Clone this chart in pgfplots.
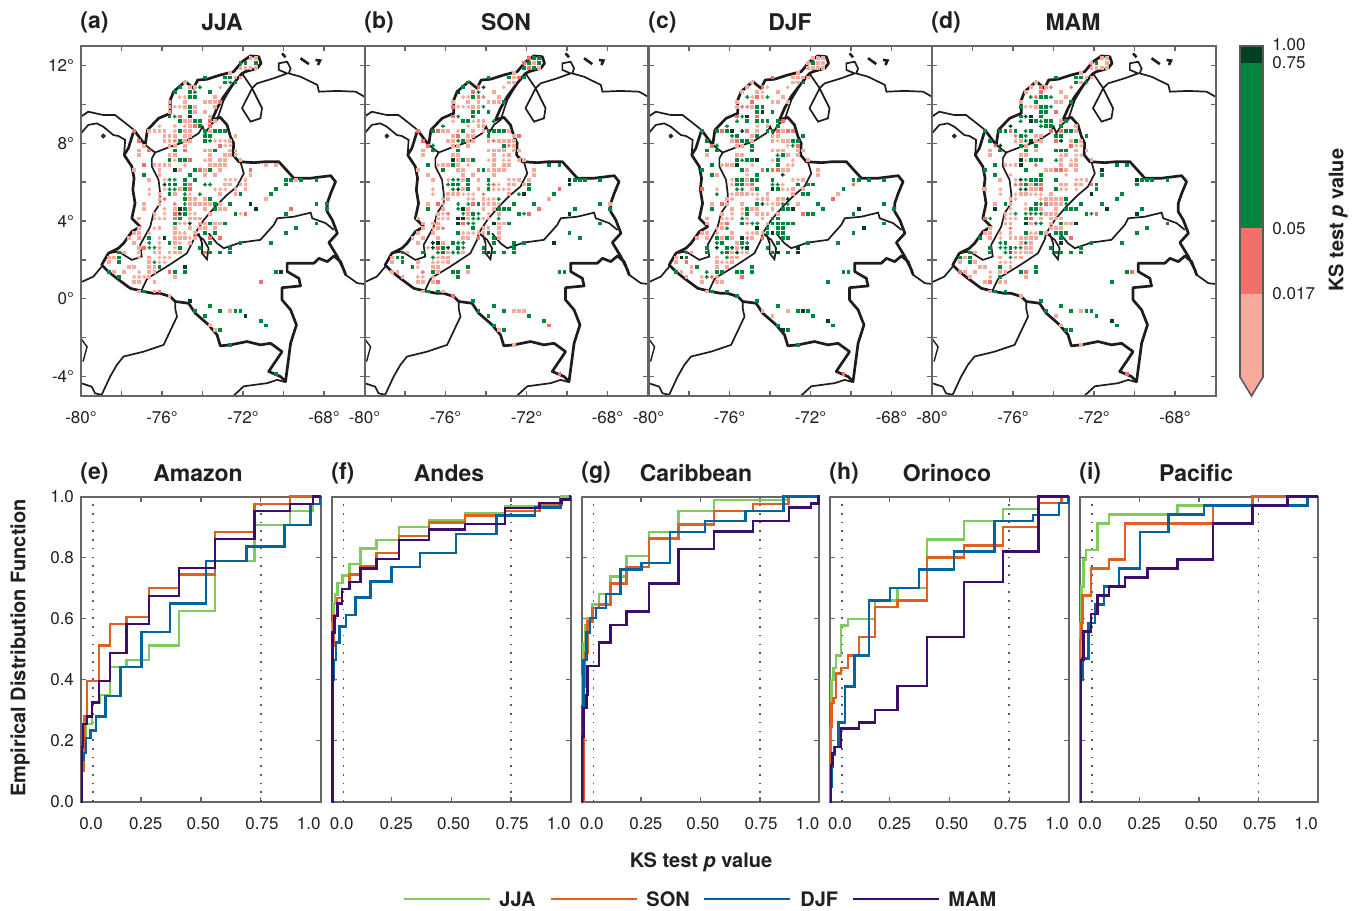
\documentclass[border=0pt]{standalone}
\usepackage{fontspec}
\setmainfont{TeX Gyre Heros}
\usepackage{pgfplots}
\pgfplotsset{compat=1.18}
\definecolor{cpink}{HTML}{F7A99B}
\definecolor{cred}{HTML}{F2706A}
\definecolor{cgreen}{HTML}{00853F}
\definecolor{cdark}{HTML}{003F22}
\definecolor{axgray}{HTML}{666666}
\definecolor{txt}{HTML}{231F20}
\definecolor{cJJA}{HTML}{7FCB5E}
\definecolor{cSON}{HTML}{E0601F}
\definecolor{cDJF}{HTML}{00659E}
\definecolor{cMAM}{HTML}{3C0E6B}
\pgfdeclareplotmark{blob}{%
 \pgfpathrectangle{\pgfpoint{-\pgfplotmarksize}{-.38\pgfplotmarksize}}{\pgfpoint{2\pgfplotmarksize}{.76\pgfplotmarksize}}%
 \pgfpathrectangle{\pgfpoint{-.38\pgfplotmarksize}{-\pgfplotmarksize}}{\pgfpoint{.76\pgfplotmarksize}{2\pgfplotmarksize}}%
 \pgfusepathqfill}
\pgfdeclareplotmark{sq}{%
 \pgfpathrectangle{\pgfpoint{-\pgfplotmarksize}{-\pgfplotmarksize}}{\pgfpoint{2\pgfplotmarksize}{2\pgfplotmarksize}}%
 \pgfusepathqfill}
\newcommand\PS[1]{\addplot[only marks,mark=sq,mark size=.95pt,mark options={fill=cpink,draw=none}] coordinates {#1};}
\newcommand\PP[1]{\addplot[only marks,mark=blob,mark size=.95pt,mark options={fill=cpink,draw=none}] coordinates {#1};}
\newcommand\GS[1]{\addplot[only marks,mark=sq,mark size=.95pt,mark options={fill=cgreen,draw=none}] coordinates {#1};}
\newcommand\GP[1]{\addplot[only marks,mark=blob,mark size=.95pt,mark options={fill=cgreen,draw=none}] coordinates {#1};}
\newcommand\DS[1]{\addplot[only marks,mark=sq,mark size=.95pt,mark options={fill=cdark,draw=none}] coordinates {#1};}
\newcommand\DP[1]{\addplot[only marks,mark=blob,mark size=.95pt,mark options={fill=cdark,draw=none}] coordinates {#1};}
\newcommand\RS[1]{\addplot[only marks,mark=sq,mark size=.95pt,mark options={fill=cred,draw=none}] coordinates {#1};}
\newcommand\RP[1]{\addplot[only marks,mark=blob,mark size=.95pt,mark options={fill=cred,draw=none}] coordinates {#1};}
\newcommand\Coast{%
\addplot[line width=.85pt,color=txt!90!black] coordinates {(-80,.85)(-79.39,1.14)(-78.98,1.65)};
\addplot[line width=.85pt,color=txt!90!black] coordinates {(-80,9.37)(-79.64,9.62)(-78.9,9.45)(-78.32,9.45)(-77.9,9.11)(-77.38,8.68)};
\addplot[line width=.85pt,color=txt!90!black] coordinates {(-80,8.51)(-79.64,8.94)(-79.22,9.02)(-78.9,8.85)(-78.4,8.42)(-78.15,8.37)(-77.82,8.17)(-77.87,7.40)};
\addplot[line width=.7pt,color=txt!90!black] coordinates {(-78.98,8.37)(-78.9,8.45)(-78.82,8.37)(-78.9,8.29)(-78.98,8.37)};
\addplot[line width=.85pt,color=txt!90!black] coordinates {(-72.05,11.59)(-71.55,10.83)(-71.3,11.08)(-70.48,11.34)(-69.82,11.59)(-70.23,11.77)(-70.23,12.11)(-69.82,12.19)(-69.65,11.85)(-69.74,11.59)(-69.16,11.42)(-68.33,11.0)(-68.25,10.65)(-67.35,10.69)(-66.44,10.65)(-66,10.39)};
\addplot[line width=.85pt,color=txt!90!black] coordinates {(-71.55,10.82)(-72.05,9.8)(-71.63,9.11)(-71.14,9.28)(-71.06,9.8)(-71.55,10.82)};
\addplot[line width=1.3pt,color=txt!90!black] coordinates {(-70.07,12.62)(-69.9,12.42)};
\addplot[line width=1.3pt,color=txt!90!black] coordinates {(-69.16,12.37)(-68.75,12.07)};
\addplot[line width=1.3pt,color=txt!90!black] coordinates {(-68.42,12.28)(-68.2,12.25)(-68.3,12.02)};
\addplot[line width=.85pt,color=txt!90!black] coordinates {(-66.93,1.23)(-66.35,.8)(-66,.76)};
\addplot[line width=.85pt,color=txt!90!black] coordinates {(-75.35,-.14)(-75.35,-.49)(-75.26,-.92)(-75.92,-2.37)(-76.91,-2.72)(-77.9,-2.97)(-78.23,-3.4)(-78.56,-4.0)(-78.98,-4.94)};
\addplot[line width=.85pt,color=txt!90!black] coordinates {(-80,-4.34)(-79.47,-4.52)(-79.31,-4.86)(-78.98,-4.94)};
\addplot[line width=.85pt,color=txt!90!black] coordinates {(-72.46,-4.98)(-71.96,-4.5)(-70.81,-4.34)(-70.31,-4.17)(-69.9,-4.29)};
\addplot[line width=.7pt,color=txt!90!black] coordinates {(-80,-2.05)(-79.7,-2.47)(-79.9,-3.23)};
\addplot[line width=.85pt,color=txt!90!black] coordinates {(-76.83,7.91)(-76.34,7.52)(-75.59,7.82)(-74.85,8.08)(-74.19,8.51)(-73.99,8.85)(-73.86,8.51)(-73.61,8.94)(-73.28,9.2)(-72.95,10.22)(-72.46,11.08)};
\addplot[line width=.85pt,color=txt!90!black] coordinates {(-76.34,7.52)(-76.5,7.22)(-76.5,6.8)(-76.17,6.11)(-76.09,5.42)(-76.09,4.91)(-76.42,4.4)(-76.58,3.71)(-77.08,2.77)(-77,2.17)(-77.49,2.0)(-78.15,2.43)(-78.65,2.34)};
\addplot[line width=.85pt,color=txt!90!black] coordinates {(-77,.45)(-76.75,1.0)(-76.58,1.14)(-75.76,1.66)(-75.26,2.0)(-74.77,2.34)(-74.44,3.03)(-74.36,3.37)(-73.94,4.05)(-73.37,4.74)(-72.79,5.34)(-72.3,5.77)(-71.96,6.45)(-72.13,7.05)};
\addplot[line width=.85pt,color=txt!90!black] coordinates {(-73.7,3.37)(-73.28,2.85)(-72.95,2.6)(-72.13,2.89)(-71.14,3.03)(-70.48,3.8)(-70.31,4.14)(-69.49,4.22)(-68.66,4.43)(-68.58,4.14)(-67.92,3.89)(-67.51,3.54)};
\addplot[line width=.85pt,color=txt!90!black] coordinates {(-74.19,3.37)(-74.02,2.85)(-74.02,2.34)(-73.78,2.03)(-73.7,2.6)(-73.94,3.03)(-74.36,3.37)};
\addplot[line width=1.35pt,color=txt!90!black,line join=round] coordinates {(-77.38,8.68)(-77.08,8.25)(-76.83,7.91)(-76.72,8.68)(-76.17,9.28)(-75.59,9.54)(-75.59,10.22)(-75.43,10.65)(-74.85,11.17)(-74.44,10.82)(-74.24,11.25)(-73.78,11.29)(-73.12,11.51)(-72.46,11.68)(-72.05,12.19)(-71.63,12.49)(-71.22,12.45)(-71.11,12.11)(-71.30,11.85)(-71.88,11.68)(-72.05,11.59)(-72.46,11.08)(-72.95,10.40)(-73.28,9.80)(-73.53,9.20)(-73.12,9.33)(-72.79,8.94)(-72.62,8.34)(-72.46,8.00)(-72.49,7.40)(-72.21,7.05)(-71.47,7.00)(-70.89,7.05)(-70.23,7.05)(-69.49,6.20)(-68.66,6.20)(-67.67,6.33)(-67.43,6.02)(-67.67,5.42)(-67.84,4.91)(-67.84,4.48)(-67.59,4.05)(-67.34,3.37)(-67.76,2.89)(-67.34,2.17)(-67.01,1.48)(-66.93,1.23)(-67.18,1.91)(-67.51,2.20)(-67.84,1.91)(-68.25,2.08)(-68.50,1.83)(-69.82,1.83)(-69.82,1.40)(-69.24,1.05)(-69.16,.66)(-70.07,.57)(-70.07,-.06)(-69.65,-.57)(-69.36,-1.34)(-69.65,-2.29)(-69.90,-4.26)(-70.15,-4.00)(-70.73,-3.74)(-70.07,-2.72)(-70.64,-2.29)(-71.14,-2.37)(-71.80,-2.20)(-72.62,-2.37)(-73.12,-2.42)(-73.28,-1.86)(-73.70,-1.34)(-74.36,-.74)(-74.69,-.23)(-75.35,-.14)(-75.59,.11)(-76.09,.28)(-76.42,.28)(-76.91,.37)(-77.57,.54)(-78.23,1.05)(-78.65,1.40)(-78.98,1.74)(-78.65,2.34)(-78.15,2.60)(-77.90,2.85)(-77.49,3.45)(-77.08,3.71)(-77.49,4.14)(-77.33,4.91)(-77.44,5.60)(-77.38,6.20)(-77.49,6.80)(-77.87,7.40)(-77.66,7.74)(-77.38,8.68)};
}
\pgfplotsset{
 mapax/.style={scale only axis,anchor=south west,width=141.75pt,height=175pt,xmin=-80,xmax=-66,ymin=-5,ymax=13,
  xtick={-80,-78,-76,-74,-72,-70,-68,-66},xticklabels={-80°,,-76°,,-72°,,-68°,},
  ytick={-4,-2,0,2,4,6,8,10,12},yticklabels={},tick align=inside,major tick length=2.5pt,
  axis line style={draw=axgray,line width=1pt},tick style={draw=axgray,line width=.7pt},
  tick label style={font=\fontsize{8.5}{10}\selectfont,text=txt},xticklabel style={yshift=-4pt},axis on top},
 ecdf/.style={scale only axis,anchor=south west,height=152.5pt,xmin=0,xmax=1,ymin=0,ymax=1,clip=false,
  xtick={0,.25,.5,.75,1},xticklabels={},ytick={0,.2,.4,.6,.8,1},yticklabels={},tick align=inside,major tick length=2.5pt,
  extra x ticks={.042,.27,.51,.755,.95},extra x tick labels={0.0,0.25,0.50,0.75,1.0},extra x tick style={major tick length=0pt,tick style={draw=none}},
  axis line style={draw=axgray,line width=1pt},tick style={draw=axgray,line width=.7pt},
  tick label style={font=\fontsize{8.5}{10}\selectfont,text=txt},xticklabel style={yshift=-4.5pt}},
 cj/.style={const plot,color=cJJA,line width=1.2pt},
 cs/.style={const plot,color=cSON,line width=1.2pt},
 cd/.style={const plot,color=cDJF,line width=1.2pt},
 cm/.style={const plot,color=cMAM,line width=1.2pt},
 dot/.style={color=black!65,line width=.8pt,dash pattern=on .8pt off 3.55pt},
}
\newcommand\Dots{\addplot[dot] coordinates {(.05,0)(.05,.985)};\addplot[dot] coordinates {(.75,0)(.75,.985)};}
\begin{document}
\begin{tikzpicture}
\path[use as bounding box] (0,0) rectangle (679pt,455pt);
% ---- maps
\begin{axis}[mapax,at={(40.5pt,257pt)},yticklabels={-4°,,0°,,4°,,8°,,12°}]
\Coast
\PS{(-71.625,12.375)(-71.375,12.375)(-72.125,11.875)(-71.875,11.875)(-71.625,11.875)(-71.375,11.875)(-72.625,11.625)(-72.375,11.375)(-72.125,11.375)(-74.875,11.125)(-74.625,10.875)(-74.375,10.875)(-73.375,10.375)(-75.625,10.125)(-74.875,10.125)(-73.875,10.125)(-73.625,10.125)(-73.375,10.125)(-75.625,9.875)(-74.875,9.875)(-74.375,9.875)(-73.375,9.875)(-75.625,9.625)(-74.375,9.625)(-73.875,9.625)(-73.625,9.375)(-74.875,9.125)(-74.625,9.125)(-73.375,9.125)(-74.625,8.875)(-76.625,8.625)(-76.375,8.625)(-76.125,8.625)(-75.875,8.625)(-74.875,8.625)(-74.625,8.625)(-73.625,8.625)(-75.875,8.375)(-75.625,8.375)(-75.375,8.375)(-74.875,8.375)(-74.625,8.375)(-72.375,8.375)(-75.875,8.125)(-75.625,8.125)(-74.875,8.125)(-74.625,8.125)(-72.625,8.125)(-76.875,7.875)(-75.625,7.875)(-75.375,7.875)(-74.875,7.875)(-77.125,7.625)(-73.875,7.625)(-73.625,7.625)(-72.625,7.625)(-72.375,7.625)(-77.125,7.375)(-75.625,7.375)(-75.375,7.375)(-73.625,7.375)(-72.875,7.375)(-72.625,7.375)(-72.375,7.375)(-73.625,7.125)(-73.125,7.125)(-72.875,7.125)(-72.125,7.125)(-76.375,6.875)(-76.125,6.875)(-75.875,6.875)(-75.625,6.875)(-73.625,6.875)(-73.375,6.875)(-73.125,6.875)(-72.875,6.875)(-70.875,6.875)(-70.375,6.875)(-77.375,6.625)(-76.125,6.625)(-75.125,6.625)(-73.875,6.625)(-73.125,6.625)(-76.125,6.375)(-73.875,6.375)(-73.375,6.375)(-71.625,6.375)(-76.625,6.125)(-71.875,6.125)(-69.375,6.125)(-75.625,5.875)(-72.875,5.875)(-72.625,5.875)(-72.125,5.875)(-71.875,5.875)(-75.125,5.625)(-72.375,5.625)(-71.875,5.625)(-76.125,5.375)(-75.375,5.375)(-73.125,5.375)(-72.375,5.375)(-76.125,5.125)(-74.625,5.125)(-74.375,5.125)(-73.875,5.125)(-70.875,5.125)(-76.875,4.875)(-76.125,4.875)(-74.625,4.875)(-74.375,4.875)(-74.125,4.875)(-73.875,4.875)(-73.625,4.875)(-73.125,4.875)(-76.875,4.625)(-75.375,4.625)(-74.625,4.625)(-73.875,4.625)(-73.125,4.625)(-72.875,4.625)(-76.375,4.375)(-75.125,4.375)(-73.625,4.375)(-77.125,4.125)(-76.375,4.125)(-74.625,4.125)(-74.375,4.125)(-74.125,4.125)(-74.125,3.875)(-73.875,3.875)(-73.375,3.875)(-73.125,3.875)(-77.125,3.625)(-76.125,3.625)(-75.375,3.625)(-74.625,3.625)(-74.125,3.625)(-73.875,3.625)(-73.375,3.625)(-77.375,3.375)(-77.125,3.375)(-75.375,3.375)(-74.375,3.375)(-77.625,3.125)(-77.125,3.125)(-75.375,3.125)(-75.125,3.125)(-74.875,3.125)(-74.375,3.125)(-77.375,2.875)(-75.375,2.875)(-74.625,2.875)(-77.125,2.625)(-76.125,2.625)(-77.875,2.375)(-77.125,2.375)(-76.375,2.375)(-76.125,2.375)(-75.625,2.375)(-75.375,2.375)(-75.125,2.375)(-78.625,2.125)(-78.375,2.125)(-76.625,2.125)(-78.625,1.875)(-76.625,1.875)(-77.625,1.625)(-77.375,1.625)(-76.625,1.625)(-76.375,1.625)(-78.375,1.375)(-77.875,1.375)(-76.625,1.375)(-76.375,1.375)(-76.625,1.125)(-75.375,1.125)(-77.375,.875)(-77.125,.875)(-76.375,.875)(-77.125,.375)(-76.375,.375)(-75.625,.125)(-72.625,-.625)(-73.625,-1.375)(-73.375,-1.625)}
\PP{(-73.125,10.875)(-75.125,10.375)(-74.875,10.375)(-75.375,9.875)(-75.125,9.875)(-76.125,8.875)(-75.375,8.875)(-74.875,8.875)(-75.375,8.625)(-73.375,8.125)(-73.125,8.125)(-72.875,8.125)(-72.875,7.875)(-72.625,7.875)(-75.375,7.125)(-75.125,7.125)(-73.875,7.125)(-74.875,6.875)(-73.125,6.625)(-75.875,6.125)(-72.875,6.125)(-72.625,6.125)(-72.375,6.125)(-76.625,5.625)(-75.875,5.625)(-73.375,5.625)(-73.125,5.625)(-72.875,5.625)(-76.625,5.375)(-74.875,5.375)(-74.625,5.375)(-73.875,5.125)(-75.875,4.625)(-75.875,4.375)(-74.625,4.375)(-74.375,4.375)(-72.125,4.375)(-76.125,4.125)(-75.875,4.125)(-75.125,3.875)(-74.875,3.875)(-76.375,3.625)(-76.625,3.375)(-75.125,3.375)(-74.875,3.375)(-76.125,3.125)(-74.625,3.125)(-76.125,2.875)(-75.125,2.875)(-76.125,2.625)(-75.375,2.625)(-76.125,2.125)(-75.875,2.125)(-75.625,2.125)(-77.125,2.125)(-76.125,1.875)(-75.875,1.875)(-77.125,1.375)(-77.375,1.125)(-77.125,1.125)(-76.875,1.125)}
\GS{(-72.125,12.125)(-71.875,12.125)(-71.375,12.125)(-73.875,11.375)(-72.875,11.375)(-72.625,11.375)(-72.875,11.125)(-72.375,11.125)(-75.125,10.875)(-75.375,10.625)(-74.625,10.625)(-73.625,10.625)(-74.625,10.375)(-74.375,10.375)(-74.625,9.875)(-74.625,9.625)(-75.625,9.375)(-75.125,9.125)(-74.375,9.125)(-74.125,9.125)(-74.125,8.875)(-75.125,8.625)(-73.875,8.625)(-73.375,8.625)(-73.125,8.625)(-72.875,8.625)(-73.875,8.375)(-73.625,8.375)(-75.125,8.125)(-73.875,8.125)(-75.375,7.625)(-73.375,7.625)(-75.125,7.125)(-74.875,7.125)(-75.625,7.125)(-74.375,6.625)(-73.625,6.625)(-76.875,6.375)(-74.625,6.375)(-74.875,6.125)(-74.375,6.125)(-69.875,6.125)(-69.625,6.125)(-69.125,6.125)(-68.375,6.125)(-75.625,5.875)(-75.375,5.875)(-74.875,5.875)(-69.875,5.875)(-74.875,5.625)(-70.375,5.625)(-75.625,5.375)(-72.125,5.375)(-70.625,5.375)(-74.875,5.125)(-73.625,5.125)(-73.375,4.875)(-72.625,4.875)(-68.375,4.875)(-67.875,4.875)(-74.875,4.625)(-73.375,4.625)(-67.875,4.625)(-74.875,4.375)(-72.375,4.375)(-69.875,4.375)(-75.125,4.125)(-75.375,3.875)(-73.625,3.875)(-72.875,3.875)(-68.375,3.875)(-69.375,3.625)(-73.875,3.375)(-73.375,3.375)(-69.875,3.375)(-76.625,3.125)(-75.625,2.875)(-73.625,2.875)(-72.125,2.875)(-70.625,2.875)(-75.125,2.625)(-74.125,2.625)(-72.625,2.625)(-78.125,2.375)(-73.625,2.375)(-73.125,2.375)(-72.625,2.375)(-78.125,2.125)(-78.125,1.875)(-76.125,1.625)(-78.625,1.375)(-75.375,1.375)(-74.875,1.375)(-70.375,1.375)(-78.125,1.125)(-76.875,.375)(-73.625,-.375)(-74.375,-.625)(-73.125,-.625)(-72.375,-.625)(-72.125,-.625)(-73.875,-.875)(-71.125,-1.125)(-70.875,-1.375)(-73.125,-1.625)(-72.625,-2.375)(-70.375,-3.875)}
\GP{(-72.625,11.125)(-74.125,10.875)(-74.375,10.625)(-75.375,9.375)(-73.625,8.125)(-75.625,6.125)(-75.375,6.125)(-73.875,5.875)(-73.625,5.875)(-75.625,5.625)(-75.375,5.625)(-74.875,5.375)(-74.125,5.375)(-74.875,4.875)(-76.625,2.875)(-76.625,2.625)(-76.375,2.625)(-76.375,1.875)}
\DS{(-74.625,9.375)(-75.375,6.625)(-71.625,4.875)(-75.125,4.625)(-71.375,4.625)(-75.875,3.125)(-74.875,1.625)(-70.125,1.375)(-74.625,-.125)(-71.875,-.875)}
\DP{(-75.875,5.875)(-75.125,4.375)(-74.625,3.875)}
\RS{(-73.125,10.125)(-75.125,9.375)(-73.625,9.125)(-74.375,8.875)(-73.625,8.875)(-77.375,8.625)(-77.125,8.125)(-76.625,7.625)(-74.875,7.625)(-73.125,7.875)(-74.625,7.125)(-76.875,6.875)(-74.125,6.625)(-71.625,6.625)(-74.625,5.875)(-74.625,5.625)(-69.625,4.625)(-71.875,4.375)(-75.375,4.375)(-75.375,4.125)(-73.625,3.125)(-73.125,3.125)(-76.875,2.625)(-73.875,2.375)(-75.625,1.375)(-71.125,.875)(-76.125,.375)}
\RP{(-75.375,8.125)(-75.875,5.125)(-75.375,4.875)}
\end{axis}
\begin{axis}[mapax,at={(182.25pt,257pt)}]
\Coast
\PS{(-71.625,12.125)(-71.375,11.875)(-72.625,11.625)(-72.625,11.375)(-72.875,11.125)(-72.625,11.125)(-73.625,10.625)(-73.375,10.375)(-75.625,10.125)(-74.875,10.125)(-74.375,10.125)(-73.875,10.125)(-73.625,10.125)(-73.375,10.125)(-74.625,9.875)(-74.375,9.875)(-74.375,9.125)(-74.125,9.125)(-74.375,8.875)(-74.125,8.875)(-76.125,8.625)(-75.875,8.625)(-74.625,8.625)(-74.125,8.625)(-72.875,8.625)(-75.625,8.375)(-74.875,8.375)(-74.625,8.375)(-72.625,8.375)(-75.875,8.125)(-75.625,8.125)(-74.875,8.125)(-74.625,8.125)(-73.875,8.125)(-73.375,8.125)(-73.125,8.125)(-72.875,8.125)(-72.625,8.125)(-75.625,7.875)(-75.375,7.875)(-74.875,7.875)(-72.625,7.875)(-77.125,7.625)(-73.875,7.625)(-73.625,7.625)(-73.375,7.625)(-73.125,7.625)(-72.625,7.625)(-72.375,7.625)(-77.125,7.375)(-75.625,7.375)(-75.375,7.375)(-73.625,7.375)(-72.875,7.375)(-75.375,7.125)(-74.875,7.125)(-73.625,7.125)(-72.375,7.125)(-72.125,7.125)(-76.125,6.875)(-75.875,6.875)(-75.375,6.875)(-73.625,6.875)(-73.125,6.875)(-72.875,6.875)(-77.375,6.625)(-75.375,6.625)(-75.125,6.625)(-73.875,6.625)(-73.625,6.625)(-73.375,6.625)(-73.125,6.625)(-71.625,6.625)(-76.875,6.375)(-75.125,6.375)(-74.625,6.375)(-73.625,6.375)(-71.625,6.375)(-76.625,6.125)(-75.125,6.125)(-74.375,6.125)(-72.375,6.125)(-71.875,6.125)(-72.875,5.875)(-72.625,5.875)(-72.125,5.875)(-75.125,5.625)(-74.375,5.625)(-75.875,5.375)(-75.625,5.375)(-75.375,5.375)(-72.875,5.375)(-75.875,5.125)(-74.125,5.125)(-70.875,5.125)(-76.875,4.875)(-74.125,4.875)(-73.875,4.875)(-73.625,4.875)(-67.875,4.875)(-76.125,4.625)(-74.875,4.625)(-74.125,4.625)(-73.625,4.625)(-76.375,4.375)(-74.875,4.375)(-73.375,4.375)(-77.375,4.125)(-76.375,4.125)(-74.875,4.125)(-74.125,4.125)(-73.875,4.125)(-77.125,3.875)(-76.625,3.875)(-76.375,3.875)(-73.375,3.875)(-73.125,3.875)(-77.125,3.625)(-76.375,3.625)(-74.125,3.625)(-73.875,3.625)(-73.375,3.625)(-77.375,3.375)(-76.625,3.375)(-74.375,3.375)(-74.125,3.375)(-73.375,3.375)(-77.625,3.125)(-77.125,3.125)(-76.375,3.125)(-75.125,3.125)(-74.875,3.125)(-73.375,3.125)(-77.375,2.875)(-76.125,2.875)(-77.875,2.375)(-75.875,2.375)(-75.125,2.375)(-78.625,2.125)(-76.125,2.125)(-75.875,2.125)(-78.625,1.875)(-77.375,1.875)(-75.875,1.875)(-76.625,1.625)(-76.375,1.625)(-78.625,1.375)(-78.375,1.375)(-76.375,1.375)(-74.875,1.375)(-78.125,1.125)(-77.375,.875)(-77.125,.875)(-76.625,.875)(-77.125,.375)(-76.125,.375)(-72.625,-.625)(-72.375,-.625)(-72.125,-.625)(-73.375,-1.625)(-72.625,-2.375)}
\PP{(-73.125,10.875)(-75.125,10.375)(-74.875,10.375)(-75.375,9.875)(-75.125,9.875)(-74.875,9.875)(-75.625,9.125)(-74.625,9.125)(-74.875,8.875)(-75.375,8.625)(-73.125,7.375)(-73.875,7.125)(-73.125,7.125)(-72.875,7.125)(-76.375,6.875)(-74.875,6.875)(-75.875,6.125)(-72.875,6.125)(-72.625,6.125)(-73.375,5.875)(-76.625,5.625)(-73.625,5.625)(-73.375,5.625)(-73.125,5.625)(-72.875,5.625)(-76.625,5.375)(-75.125,5.375)(-74.875,5.375)(-74.625,5.375)(-76.125,5.125)(-74.875,5.125)(-74.625,5.125)(-73.875,5.125)(-73.625,5.125)(-76.125,4.875)(-73.375,4.875)(-76.125,4.375)(-73.875,4.375)(-76.125,4.125)(-75.875,4.125)(-76.625,3.625)(-75.125,3.375)(-74.875,3.375)(-74.625,3.375)(-76.875,2.625)(-76.375,2.125)(-76.625,1.875)(-76.375,1.875)(-76.125,1.875)(-77.375,1.625)(-77.375,1.125)(-77.125,1.125)(-76.625,1.125)}
\GS{(-71.625,12.375)(-71.375,12.375)(-71.875,12.125)(-71.375,12.125)(-72.125,11.875)(-71.625,11.875)(-73.875,11.375)(-72.875,11.375)(-72.125,11.375)(-74.875,11.125)(-75.125,10.875)(-74.625,10.375)(-73.125,10.125)(-74.625,9.625)(-74.375,9.625)(-73.875,9.625)(-74.625,9.375)(-75.125,9.125)(-74.875,9.125)(-76.625,8.625)(-75.125,8.625)(-73.875,8.625)(-73.625,8.625)(-73.375,8.625)(-73.125,8.625)(-73.875,8.375)(-75.125,8.125)(-73.125,7.875)(-76.625,7.625)(-75.375,7.625)(-75.125,7.125)(-74.625,7.125)(-76.875,6.875)(-75.625,6.875)(-70.875,6.875)(-70.375,6.875)(-76.125,6.625)(-74.125,6.625)(-74.875,6.125)(-73.875,6.125)(-69.625,6.125)(-69.375,6.125)(-69.125,6.125)(-68.375,6.125)(-75.625,5.875)(-75.375,5.875)(-74.875,5.875)(-71.875,5.875)(-74.875,5.625)(-73.875,5.625)(-71.875,5.625)(-70.625,5.375)(-74.375,4.875)(-72.625,4.875)(-71.625,4.875)(-68.375,4.875)(-76.875,4.625)(-73.375,4.625)(-73.125,4.625)(-72.875,4.625)(-69.625,4.625)(-67.875,4.625)(-74.625,4.375)(-72.375,4.375)(-72.875,3.875)(-68.375,3.875)(-74.625,3.625)(-75.375,3.375)(-73.875,3.375)(-69.875,3.375)(-73.625,3.125)(-69.375,3.125)(-75.625,2.875)(-73.625,2.875)(-72.625,2.875)(-72.125,2.875)(-76.125,2.625)(-75.375,2.625)(-74.125,2.625)(-72.625,2.625)(-78.125,2.375)(-77.125,2.375)(-76.125,2.375)(-74.125,2.375)(-73.625,2.375)(-73.125,2.375)(-72.625,2.375)(-78.375,2.125)(-78.125,2.125)(-78.125,1.875)(-77.625,1.625)(-74.875,1.625)(-76.625,1.375)(-75.625,1.375)(-75.375,1.375)(-70.375,1.375)(-70.125,1.375)(-75.375,1.125)(-76.875,.375)(-76.375,.375)(-74.625,-.125)(-73.625,-.375)(-74.375,-.625)(-73.125,-.625)(-73.875,-.875)(-71.875,-.875)(-71.125,-1.125)(-73.625,-1.375)(-73.125,-1.625)}
\GP{(-74.375,10.625)(-74.125,9.875)(-75.375,9.375)(-73.625,9.125)(-76.125,8.875)(-75.375,8.125)(-76.625,7.875)(-75.625,6.125)(-75.375,6.125)(-75.875,5.875)(-73.875,5.875)(-75.625,5.625)(-72.375,5.375)(-73.375,5.125)(-75.375,4.875)(-74.875,4.875)(-75.375,4.625)(-75.125,4.375)(-74.375,4.375)(-72.125,4.375)(-74.625,4.125)(-74.375,4.125)(-73.375,4.125)(-74.875,3.875)(-74.625,3.875)(-75.375,2.875)(-75.125,2.875)(-75.125,2.625)(-76.375,2.375)(-75.625,2.375)(-75.375,2.375)(-76.625,2.125)}
\DS{(-75.375,10.625)(-75.625,7.125)(-69.875,6.125)(-69.875,5.875)(-72.125,5.375)(-75.125,4.625)(-69.875,4.375)(-75.375,4.125)(-75.125,4.125)(-75.375,3.875)(-73.625,3.875)(-76.375,2.875)(-70.625,2.875)(-73.875,2.375)}
\DP{(-74.125,10.875)(-75.375,5.625)(-76.625,2.875)(-76.625,2.625)(-75.875,2.625)}
\RS{(-71.875,12.375)(-72.125,12.125)(-71.875,11.875)(-72.375,11.375)(-74.375,10.875)(-74.625,10.625)(-74.375,10.375)(-75.625,9.875)(-75.625,9.375)(-77.375,8.625)(-76.375,8.625)(-75.375,8.375)(-72.375,8.375)(-77.125,8.125)(-76.875,7.875)(-74.375,6.625)(-70.375,5.625)(-76.375,4.875)(-74.625,4.875)(-71.375,4.625)(-71.875,4.375)(-75.125,3.875)(-74.375,3.125)(-76.375,2.625)(-76.375,.875)(-75.625,.125)(-70.875,-1.375)(-70.375,-3.875)}
\RP{(-74.125,10.375)(-73.625,8.125)(-72.875,7.875)(-73.625,5.875)(-74.125,5.375)(-75.875,4.375)(-76.125,3.625)(-77.125,1.375)}
\end{axis}
\begin{axis}[mapax,at={(324.25pt,257pt)}]
\Coast
\PS{(-71.875,12.375)(-71.625,12.375)(-71.375,12.375)(-72.125,12.125)(-71.625,12.125)(-71.375,12.125)(-72.125,11.875)(-71.875,11.875)(-71.625,11.875)(-71.375,11.875)(-72.625,11.625)(-72.875,11.375)(-72.625,11.375)(-72.375,11.375)(-72.125,11.375)(-74.875,11.125)(-72.875,11.125)(-72.625,11.125)(-75.125,10.875)(-75.375,10.625)(-74.625,10.625)(-73.625,10.625)(-74.375,10.375)(-73.375,10.375)(-75.625,10.125)(-73.875,10.125)(-73.625,10.125)(-73.125,10.125)(-75.625,9.875)(-74.875,9.875)(-74.125,8.875)(-74.625,8.625)(-73.375,8.625)(-74.875,8.375)(-73.875,8.375)(-73.625,8.375)(-75.875,8.125)(-74.875,8.125)(-73.875,8.125)(-73.375,8.125)(-73.125,8.125)(-75.625,7.875)(-75.375,7.875)(-73.875,7.625)(-73.625,7.625)(-73.375,7.625)(-72.625,7.625)(-72.375,7.625)(-77.125,7.375)(-75.625,7.375)(-75.375,7.375)(-73.125,7.375)(-72.625,7.375)(-72.125,7.125)(-76.125,6.875)(-75.875,6.875)(-75.125,6.625)(-73.375,6.625)(-73.125,6.625)(-71.625,6.625)(-76.625,6.375)(-71.625,6.375)(-75.125,6.125)(-72.375,6.125)(-75.125,5.875)(-74.875,5.625)(-72.875,5.625)(-72.375,5.625)(-75.625,5.375)(-75.375,5.375)(-75.125,5.375)(-74.125,5.375)(-72.875,5.375)(-70.625,5.375)(-76.125,5.125)(-74.375,5.125)(-74.125,5.125)(-73.625,5.125)(-73.375,5.125)(-76.875,4.875)(-76.125,4.875)(-75.375,4.875)(-73.625,4.875)(-72.625,4.875)(-75.875,4.625)(-74.875,4.625)(-74.625,4.625)(-73.875,4.625)(-76.375,4.375)(-74.625,4.375)(-74.375,4.375)(-74.125,4.375)(-73.625,4.375)(-77.125,4.125)(-75.125,4.125)(-74.375,4.125)(-77.125,3.875)(-76.375,3.875)(-74.125,3.875)(-76.375,3.625)(-77.375,3.375)(-77.125,3.375)(-75.875,3.375)(-74.625,3.375)(-74.375,3.375)(-77.625,3.125)(-77.125,3.125)(-76.375,3.125)(-75.875,3.125)(-74.875,3.125)(-75.625,2.875)(-75.625,2.625)(-77.875,2.375)(-75.875,2.375)(-75.125,2.375)(-78.625,2.125)(-75.875,2.125)(-75.625,2.125)(-78.625,1.875)(-76.625,1.875)(-75.875,1.875)(-77.875,1.625)(-76.625,1.625)(-76.125,1.625)(-78.375,1.375)(-77.875,1.375)(-78.125,1.125)(-77.375,.875)(-76.625,.875)(-76.375,.875)(-77.125,.375)(-74.375,-.625)(-73.125,-.625)(-73.875,-.875)}
\PP{(-74.125,10.875)(-73.125,10.875)(-74.375,10.625)(-74.875,10.375)(-74.625,8.875)(-73.625,8.125)(-73.125,7.875)(-73.875,7.125)(-72.875,7.125)(-76.375,6.875)(-74.875,6.875)(-73.125,6.875)(-72.875,6.875)(-75.125,6.375)(-75.875,6.125)(-72.875,6.125)(-72.625,6.125)(-75.875,5.875)(-73.375,5.875)(-76.625,5.625)(-73.375,5.625)(-73.125,5.625)(-75.875,5.375)(-74.875,5.375)(-74.625,5.375)(-75.875,5.125)(-74.625,5.125)(-74.125,4.875)(-73.875,4.875)(-75.375,4.625)(-75.875,4.375)(-75.375,4.375)(-76.375,4.125)(-76.125,4.125)(-75.875,4.125)(-76.625,3.625)(-76.625,3.375)(-75.125,3.375)(-74.875,3.375)(-75.375,2.375)(-76.625,2.125)(-76.375,1.875)(-76.125,1.875)(-77.375,1.125)(-76.625,1.125)}
\GS{(-71.875,12.125)(-72.375,11.125)(-74.625,9.875)(-74.375,9.875)(-74.625,9.625)(-73.875,9.625)(-75.125,9.125)(-74.625,9.125)(-74.375,9.125)(-74.125,9.125)(-73.625,9.125)(-73.625,8.875)(-77.375,8.625)(-76.625,8.625)(-76.125,8.625)(-74.125,8.625)(-73.875,8.625)(-75.625,8.375)(-74.625,8.375)(-72.375,8.375)(-77.125,8.125)(-75.375,8.125)(-75.125,8.125)(-72.875,8.125)(-72.625,8.125)(-74.875,7.875)(-77.125,7.625)(-76.625,7.625)(-74.875,7.625)(-73.375,7.375)(-75.625,7.125)(-75.125,7.125)(-74.875,7.125)(-73.625,7.125)(-76.875,6.875)(-73.625,6.875)(-77.375,6.625)(-75.375,6.625)(-74.125,6.625)(-76.875,6.375)(-74.625,6.375)(-75.625,6.125)(-75.375,6.125)(-74.875,6.125)(-74.625,6.125)(-73.875,6.125)(-69.875,6.125)(-69.625,6.125)(-69.125,6.125)(-68.375,6.125)(-75.625,5.875)(-75.375,5.875)(-72.625,5.875)(-72.125,5.875)(-71.875,5.875)(-74.625,5.625)(-73.625,5.625)(-70.375,5.625)(-72.375,5.375)(-72.125,5.375)(-74.625,4.875)(-71.625,4.875)(-68.375,4.875)(-76.875,4.625)(-75.125,4.625)(-73.375,4.625)(-73.125,4.625)(-71.375,4.625)(-67.875,4.625)(-75.125,4.375)(-72.125,4.375)(-71.875,4.375)(-69.875,4.375)(-73.875,4.125)(-73.625,4.125)(-75.375,3.875)(-73.875,3.875)(-73.625,3.875)(-73.375,3.875)(-73.125,3.875)(-72.875,3.875)(-68.375,3.875)(-74.125,3.625)(-73.625,3.625)(-73.375,3.625)(-74.125,3.375)(-73.625,3.375)(-73.375,3.375)(-69.875,3.375)(-76.625,3.125)(-76.125,3.125)(-73.375,3.125)(-73.125,3.125)(-76.375,2.875)(-75.375,2.875)(-73.625,2.875)(-72.125,2.875)(-70.625,2.875)(-77.125,2.625)(-76.125,2.625)(-74.125,2.625)(-78.125,2.375)(-77.125,2.375)(-76.125,2.375)(-73.875,2.375)(-73.125,2.375)(-78.125,2.125)(-77.625,1.625)(-74.875,1.625)(-78.625,1.375)(-76.625,1.375)(-76.375,1.375)(-75.625,1.375)(-75.375,1.375)(-74.875,1.375)(-70.375,1.375)(-70.125,1.375)(-71.125,.875)(-76.875,.375)(-76.125,.375)(-75.625,.125)(-74.625,-.125)(-73.625,-.375)(-72.625,-.625)(-72.125,-.625)(-71.875,-.875)(-73.625,-1.375)(-70.875,-1.375)(-73.125,-1.625)(-72.625,-2.375)}
\GP{(-75.125,10.375)(-74.125,10.375)(-75.375,9.375)(-75.625,9.125)(-76.125,8.875)(-75.875,8.375)(-76.625,7.875)(-72.875,7.875)(-73.625,7.375)(-75.375,7.125)(-73.875,5.875)(-73.625,5.875)(-75.625,5.625)(-75.375,5.625)(-76.625,5.375)(-73.375,4.875)(-73.125,4.875)(-75.375,4.125)(-74.875,3.875)(-74.625,3.875)(-76.125,3.625)(-76.625,2.875)(-75.125,2.875)(-75.375,2.625)(-76.375,2.375)(-76.125,2.125)(-77.125,1.375)(-77.125,1.125)}
\DS{(-74.375,9.625)(-75.125,9.375)(-75.875,8.625)(-74.625,7.125)(-75.625,6.875)(-73.875,5.625)(-72.875,4.625)(-69.625,4.625)(-74.625,3.625)(-69.375,3.625)(-73.875,3.375)(-75.375,3.125)(-75.125,2.625)(-72.625,2.625)(-73.625,2.375)(-72.625,2.375)(-78.375,2.125)(-72.375,-.625)(-71.125,-1.125)(-73.375,-1.625)}
\DP{(-75.375,8.625)(-73.375,6.375)(-73.125,5.125)(-74.375,4.875)(-76.625,2.625)(-75.875,2.625)(-75.625,2.375)}
\RS{(-73.875,11.375)(-74.375,10.875)(-74.625,10.375)(-74.875,10.125)(-75.625,9.375)(-74.625,9.375)(-73.375,9.125)(-76.375,8.625)(-75.125,8.625)(-73.625,8.625)(-73.125,8.625)(-72.875,8.625)(-75.625,8.125)(-76.875,7.875)(-72.625,7.875)(-74.375,6.625)(-73.875,6.625)(-73.625,6.625)(-74.875,5.875)(-69.875,5.875)(-77.375,5.625)(-70.875,5.125)(-76.375,4.875)(-72.375,4.375)(-76.125,3.875)(-74.375,3.125)(-78.125,1.875)(-75.375,1.125)(-70.375,-3.875)}
\RP{(-75.375,9.875)(-75.125,9.875)(-75.125,3.875)(-75.125,3.125)(-76.875,1.125)}
\end{axis}
\begin{axis}[mapax,at={(466pt,257pt)}]
\Coast
\PS{(-71.625,12.375)(-71.375,12.375)(-72.125,12.125)(-71.375,12.125)(-72.125,11.875)(-71.875,11.875)(-71.625,11.875)(-71.375,11.875)(-72.625,11.625)(-72.375,11.375)(-72.125,11.375)(-74.875,11.125)(-72.625,11.125)(-75.125,10.875)(-74.375,10.875)(-75.375,10.625)(-73.625,10.625)(-73.375,10.375)(-75.625,10.125)(-73.875,10.125)(-73.625,10.125)(-74.875,9.875)(-73.625,9.125)(-72.875,8.875)(-72.875,8.625)(-74.875,8.375)(-74.625,8.375)(-75.875,8.125)(-75.625,8.125)(-74.875,8.125)(-74.625,8.125)(-73.125,8.125)(-72.625,8.125)(-75.375,7.875)(-77.125,7.625)(-74.875,7.625)(-72.875,7.625)(-72.375,7.625)(-77.125,7.375)(-75.625,7.375)(-75.375,7.375)(-73.375,7.375)(-73.625,7.125)(-72.875,7.125)(-72.125,7.125)(-76.375,6.875)(-75.875,6.875)(-73.625,6.875)(-73.125,6.875)(-72.875,6.875)(-74.375,6.625)(-74.125,6.625)(-73.375,6.625)(-72.875,6.625)(-76.625,6.125)(-72.375,6.125)(-75.125,5.875)(-73.625,5.875)(-73.375,5.875)(-72.875,5.875)(-72.625,5.875)(-77.375,5.625)(-75.125,5.625)(-74.875,5.625)(-75.625,5.375)(-75.375,5.375)(-74.125,5.375)(-76.125,5.125)(-74.375,5.125)(-74.125,5.125)(-73.875,5.125)(-73.625,5.125)(-76.875,4.875)(-76.125,4.875)(-74.125,4.875)(-73.875,4.875)(-73.625,4.875)(-74.625,4.625)(-73.875,4.625)(-76.375,4.375)(-74.375,4.375)(-74.125,4.375)(-73.875,4.375)(-74.625,4.125)(-74.125,4.125)(-73.875,4.125)(-73.625,4.125)(-76.375,3.875)(-76.125,3.875)(-75.125,3.875)(-74.125,3.875)(-73.375,3.875)(-73.125,3.875)(-77.125,3.625)(-74.125,3.625)(-73.875,3.625)(-73.625,3.625)(-77.375,3.375)(-77.125,3.375)(-76.125,3.375)(-74.375,3.375)(-77.125,3.125)(-76.125,3.125)(-75.875,3.125)(-75.625,3.125)(-75.375,3.125)(-75.125,3.125)(-74.875,3.125)(-75.625,2.875)(-75.125,2.875)(-75.375,2.625)(-75.125,2.625)(-77.875,2.375)(-75.875,2.375)(-75.375,2.375)(-75.125,2.375)(-78.375,2.125)(-76.625,2.125)(-75.875,2.125)(-75.625,2.125)(-78.625,1.875)(-77.875,1.875)(-77.625,1.625)(-77.375,1.625)(-76.125,1.625)(-78.375,1.375)(-77.875,1.375)(-76.625,1.375)(-76.375,1.375)(-78.125,1.125)(-75.375,1.125)(-77.375,.875)(-76.625,.875)(-76.375,.875)(-77.125,.375)(-75.625,.125)(-72.625,-.625)(-73.875,-.875)(-73.625,-1.375)(-72.625,-2.375)}
\PP{(-75.375,9.875)(-75.125,9.875)(-72.875,7.875)(-72.625,7.875)(-73.625,7.375)(-72.875,7.375)(-72.625,7.375)(-75.375,7.125)(-73.125,7.125)(-76.125,6.875)(-76.125,6.375)(-73.375,6.375)(-75.875,6.125)(-72.875,6.125)(-72.625,6.125)(-76.625,5.625)(-73.625,5.625)(-73.375,5.625)(-72.875,5.625)(-76.625,5.375)(-75.875,5.375)(-75.125,5.375)(-74.875,5.375)(-74.625,5.375)(-75.875,5.125)(-74.625,5.125)(-75.375,4.875)(-76.125,4.625)(-75.375,4.625)(-76.125,4.375)(-76.375,4.125)(-76.125,4.125)(-75.875,4.125)(-76.625,3.375)(-75.125,3.375)(-74.875,3.375)(-76.625,3.125)(-75.625,2.375)(-76.625,1.875)(-76.375,1.875)(-76.125,1.875)(-77.125,1.375)(-77.125,1.125)}
\GS{(-71.875,12.125)(-73.875,11.375)(-72.875,11.375)(-72.625,11.375)(-72.875,11.125)(-74.625,10.375)(-74.375,10.375)(-74.875,10.125)(-73.125,10.125)(-75.625,9.875)(-74.625,9.875)(-74.375,9.875)(-74.625,9.625)(-74.375,9.625)(-75.625,9.375)(-74.625,9.375)(-74.875,9.125)(-74.375,9.125)(-74.125,9.125)(-73.375,9.125)(-74.375,8.875)(-74.125,8.875)(-73.625,8.875)(-77.375,8.625)(-76.625,8.625)(-76.375,8.625)(-75.875,8.625)(-75.125,8.625)(-73.375,8.625)(-73.125,8.625)(-75.625,8.375)(-73.875,8.375)(-73.625,8.375)(-72.375,8.375)(-77.125,8.125)(-72.875,8.125)(-75.625,7.875)(-74.875,7.875)(-76.625,7.625)(-75.375,7.625)(-73.875,7.625)(-73.625,7.625)(-73.375,7.625)(-75.125,7.125)(-74.875,7.125)(-74.625,7.125)(-76.875,6.875)(-70.875,6.875)(-70.375,6.875)(-77.375,6.625)(-75.375,6.625)(-76.875,6.375)(-74.625,6.375)(-71.625,6.375)(-75.125,6.125)(-74.875,6.125)(-74.625,6.125)(-73.875,6.125)(-69.625,6.125)(-69.375,6.125)(-69.125,6.125)(-68.375,6.125)(-75.375,5.875)(-74.875,5.875)(-71.875,5.875)(-69.875,5.875)(-73.875,5.625)(-71.875,5.625)(-70.625,5.375)(-73.375,5.125)(-70.875,5.125)(-76.375,4.875)(-74.875,4.875)(-72.625,4.875)(-71.625,4.875)(-75.125,4.625)(-74.875,4.625)(-73.375,4.625)(-73.125,4.625)(-72.875,4.625)(-69.625,4.625)(-72.375,4.375)(-75.375,4.125)(-73.625,3.875)(-68.375,3.875)(-69.375,3.625)(-75.375,3.375)(-74.625,3.375)(-73.875,3.375)(-73.625,3.375)(-73.375,3.375)(-69.875,3.375)(-77.625,3.125)(-73.625,3.125)(-76.375,2.875)(-72.125,2.875)(-70.625,2.875)(-77.125,2.625)(-76.125,2.625)(-74.125,2.625)(-72.625,2.625)(-78.125,2.375)(-77.125,2.375)(-76.125,2.375)(-73.875,2.375)(-73.625,2.375)(-73.125,2.375)(-72.625,2.375)(-78.625,2.125)(-78.125,2.125)(-78.125,1.875)(-76.625,1.625)(-74.875,1.625)(-75.625,1.375)(-74.875,1.375)(-70.375,1.375)(-76.625,1.125)(-71.125,.875)(-76.875,.375)(-76.375,.375)(-74.625,-.125)(-73.625,-.375)(-74.375,-.625)(-73.125,-.625)(-72.375,-.625)(-72.125,-.625)(-71.875,-.875)(-70.875,-1.375)(-73.375,-1.625)(-73.125,-1.625)}
\GP{(-72.375,11.125)(-75.125,10.375)(-74.125,10.375)(-74.125,9.875)(-75.625,9.125)(-74.625,9.125)(-74.625,8.875)(-75.375,8.625)(-75.375,8.375)(-75.375,8.125)(-73.875,7.125)(-75.375,6.125)(-75.625,5.625)(-74.625,4.875)(-73.375,4.875)(-75.875,4.375)(-75.375,4.375)(-75.125,4.375)(-74.875,4.375)(-74.625,4.375)(-72.125,4.375)(-77.125,4.125)(-74.875,3.875)(-74.625,3.875)(-76.625,2.875)(-75.375,2.875)(-76.625,2.625)(-76.375,2.625)(-75.875,2.625)(-75.625,2.625)(-76.375,2.375)(-76.125,2.125)}
\DS{(-75.125,9.375)(-75.125,9.125)(-75.125,8.125)(-75.625,7.125)(-75.625,6.875)(-71.625,6.625)(-69.875,6.125)(-72.125,5.375)(-76.875,4.625)(-71.375,4.625)(-69.875,4.375)(-75.375,3.875)(-72.875,3.875)(-73.625,2.875)(-71.125,-1.125)}
\DP{(-75.375,9.375)(-76.125,8.875)(-73.625,8.125)(-76.625,7.875)(-75.625,6.125)(-75.375,5.625)}
\RS{(-74.625,10.875)(-74.625,10.625)(-73.875,9.625)(-76.125,8.625)(-74.125,8.625)(-73.625,8.625)(-73.875,8.125)(-73.125,7.875)(-73.875,6.625)(-73.625,6.625)(-75.625,5.875)(-74.625,5.875)(-72.125,5.875)(-74.625,5.625)(-74.375,4.875)(-71.875,4.375)(-77.375,4.125)(-75.125,4.125)(-73.125,3.125)(-78.625,1.375)(-75.375,1.375)(-70.125,1.375)(-77.125,.875)(-70.375,-3.875)}
\RP{(-74.125,10.875)(-73.125,10.875)(-74.875,10.375)(-75.875,8.375)(-76.875,7.875)(-74.875,6.875)(-75.875,5.875)(-76.125,3.625)}
\end{axis}
% ---- ECDF
\begin{axis}[ecdf,at={(40.5pt,54.15pt)},width=119.85pt,yticklabels={0.0,0.2,0.4,0.6,0.8,1.0}]
\Dots
\addplot[cj] coordinates {(0,0)(.003,.12)(.01,.2)(.02,.254)(.045,.325)(.08,.35)(.122,.442)(.189,.464)(.283,.512)(.408,.626)(.56,.79)(.724,.907)(.872,.953)(.967,1)(1,1)};
\addplot[cs] coordinates {(0,0)(.005,.1)(.011,.18)(.015,.28)(.026,.395)(.076,.512)(.122,.582)(.189,.605)(.283,.70)(.408,.745)(.56,.884)(.724,.977)(.872,1)(1,1)};
\addplot[cd] coordinates {(0,0)(.004,.137)(.011,.16)(.021,.208)(.039,.233)(.0625,.28)(.103,.347)(.165,.442)(.253,.557)(.372,.65)(.521,.79)(.69,.837)(.849,.907)(.958,.977)(.997,1)(1,1)};
\addplot[cm] coordinates {(0,0)(.003,.18)(.008,.254)(.025,.28)(.046,.325)(.076,.395)(.122,.487)(.189,.582)(.283,.675)(.408,.767)(.56,.861)(.724,.953)(.872,.977)(.967,1)(1,1)};
\end{axis}
\begin{axis}[ecdf,at={(165.85pt,54.15pt)},width=119.5pt]
\Dots
\addplot[cj] coordinates {(0,0)(.002,.3)(.003,.51)(.004,.586)(.007,.65)(.014,.68)(.025,.717)(.045,.741)(.074,.779)(.12,.83)(.188,.859)(.281,.90)(.407,.923)(.558,.947)(.724,.969)(.87,.98)(.961,1)(1,1)};
\addplot[cs] coordinates {(0,0)(.002,.51)(.007,.613)(.021,.668)(.042,.698)(.074,.745)(.12,.772)(.188,.816)(.281,.871)(.407,.915)(.558,.939)(.724,.953)(.87,.975)(.961,.991)(1,1)};
\addplot[cd] coordinates {(0,0)(.001,.40)(.008,.465)(.018,.522)(.033,.575)(.06,.613)(.10,.67)(.162,.722)(.251,.769)(.37,.816)(.521,.877)(.689,.939)(.85,.964)(.957,.991)(1,1)};
\addplot[cm] coordinates {(0,0)(.003,.555)(.012,.608)(.025,.65)(.042,.698)(.074,.721)(.12,.765)(.188,.796)(.281,.859)(.407,.893)(.558,.911)(.724,.962)(.87,.98)(.961,.991)(.997,1)(1,1)};
\end{axis}
\begin{axis}[ecdf,at={(290.85pt,54.15pt)},width=118.8pt]
\Dots
\addplot[cj] coordinates {(0,0)(.003,.41)(.007,.52)(.014,.578)(.025,.602)(.045,.646)(.074,.681)(.121,.738)(.189,.806)(.282,.885)(.408,.954)(.558,.989)(.863,1)(1,1)};
\addplot[cs] coordinates {(0,0)(.007,.378)(.014,.487)(.025,.591)(.045,.635)(.074,.646)(.121,.715)(.189,.77)(.282,.863)(.408,.909)(.558,.954)(.722,.977)(.87,1)(1,1)};
\addplot[cd] coordinates {(0,0)(.004,.312)(.008,.465)(.02,.555)(.035,.602)(.06,.635)(.101,.681)(.163,.761)(.252,.783)(.372,.885)(.519,.92)(.689,.954)(.849,1)(1,1)};
\addplot[cm] coordinates {(0,0)(.001,.214)(.007,.307)(.021,.35)(.025,.444)(.074,.522)(.121,.579)(.189,.624)(.282,.715)(.408,.829)(.558,.886)(.722,.92)(.872,.964)(.964,.978)(.997,1)(1,1)};
\end{axis}
\begin{axis}[ecdf,at={(415pt,54.15pt)},width=119.5pt]
\Dots
\addplot[cj] coordinates {(0,0)(.003,.312)(.007,.40)(.014,.438)(.025,.48)(.045,.578)(.075,.60)(.188,.66)(.283,.70)(.407,.86)(.56,.92)(.724,.96)(.87,1)(1,1)};
\addplot[cs] coordinates {(0,0)(.002,.246)(.007,.323)(.014,.34)(.024,.42)(.045,.438)(.075,.48)(.121,.54)(.188,.639)(.283,.66)(.407,.80)(.56,.84)(.724,.90)(.87,.98)(.968,1)(1,1)};
\addplot[cd] coordinates {(0,0)(.003,.05)(.007,.115)(.011,.153)(.018,.18)(.035,.26)(.063,.378)(.102,.48)(.164,.66)(.251,.70)(.372,.761)(.52,.82)(.689,.92)(.85,.94)(.957,.98)(.997,1)(1,1)};
\addplot[cm] coordinates {(0,0)(.003,.12)(.01,.159)(.021,.18)(.045,.24)(.121,.26)(.188,.30)(.283,.38)(.407,.54)(.56,.72)(.724,.82)(.873,1)(1,1)};
\end{axis}
\begin{axis}[ecdf,at={(540pt,54.15pt)},width=119pt]
\Dots
\addplot[cj] coordinates {(0,0)(.002,.586)(.006,.706)(.014,.794)(.024,.825)(.074,.912)(.122,.942)(.409,.971)(.724,1)(1,1)};
\addplot[cs] coordinates {(0,0)(.001,.53)(.006,.586)(.011,.676)(.045,.765)(.122,.794)(.189,.912)(.56,.971)(.724,1)(1,1)};
\addplot[cd] coordinates {(0,0)(.003,.40)(.01,.47)(.035,.586)(.062,.646)(.102,.706)(.164,.765)(.252,.884)(.371,.942)(.52,.971)(.955,1)(1,1)};
\addplot[cm] coordinates {(0,0)(.004,.465)(.014,.558)(.045,.615)(.074,.676)(.122,.706)(.189,.735)(.284,.765)(.409,.794)(.56,.912)(.724,.971)(.871,1)(1,1)};
\end{axis}
% ---- overlay in image pixels
\begin{scope}[shift={(0,455pt)},x=.5pt,y=-.5pt,text=txt]
\def\BF{\fontsize{11.5}{13}\selectfont\bfseries}
\foreach \xa/\lab/\xb/\tit in {80/(a)/222/JJA,364/(b)/506/SON,648/(c)/790/DJF,931/(d)/1073/MAM}{
 \node[anchor=west,inner sep=0,font=\BF] at (\xa,22) {\lab};
 \node[inner sep=0,font=\BF] at (\xb,22) {\tit};}
\foreach \xa/\lab/\xb/\tit in {80/(e)/198/Amazon,331/(f)/449/Andes,581/(g)/696/Caribbean,829/(h)/947/Orinoco,1079/(i)/1196/Pacific}{
 \node[anchor=west,inner sep=0,font=\BF] at (\xa,473) {\lab};
 \node[inner sep=0,font=\BF] at (\xb,473) {\tit};}
\def\LF{\fontsize{10}{12}\selectfont\bfseries}
\node[rotate=90,inner sep=0,font=\LF] at (20,648) {Empirical Distribution Function};
\node[inner sep=0,font=\LF] at (701,862) {KS test \textit{p} value};
\node[rotate=90,inner sep=0,font=\LF] at (1338,220) {KS test \textit{p} value};
\foreach \a/\b/\c/\t/\d in {404/490/cJJA/JJA/499,551/637/cSON/SON/646,704/790/cDJF/DJF/800,853/939/cMAM/MAM/948}{
 \draw[\c,line width=1.1pt] (\a,899) -- (\b,899);
 \node[anchor=west,inner sep=0,font=\LF] at (\d,899) {\t};}
% colourbar
\fill[cdark] (1240,46) rectangle (1263,63);
\fill[cgreen] (1240,63) rectangle (1263,228);
\fill[cred] (1240,228) rectangle (1263,294);
\fill[cpink] (1240,294) -- (1263,294) -- (1263,377) -- (1251.5,396) -- (1240,377) -- cycle;
\draw[draw=black!65,line width=.8pt,line join=miter] (1240,377) -- (1240,46) -- (1263,46) -- (1263,377) -- (1251.5,396) -- cycle;
\foreach \y/\t in {45/1.00,63/0.75,229/0.05,294/0.017}{
 \node[anchor=west,inner sep=0,font=\fontsize{8.5}{10}\selectfont] at (1272,\y) {\t};}
\end{scope}
\end{tikzpicture}
\end{document}
